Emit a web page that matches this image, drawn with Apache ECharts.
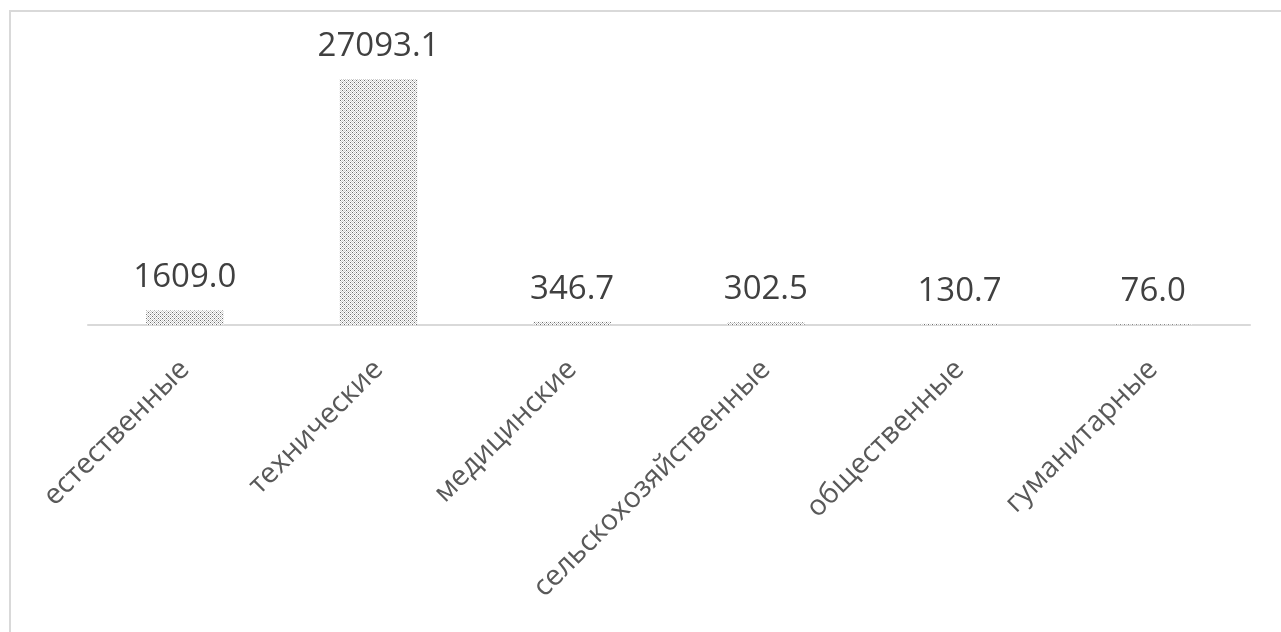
<!DOCTYPE html>
<html><head><meta charset="utf-8">
<style>html,body{margin:0;padding:0;background:#fff;}#c{width:1281px;height:632px;}</style>
<script src="https://cdn.jsdelivr.net/npm/echarts@6/dist/echarts.min.js"></script>
</head><body><div id="c"></div>
<script>
const categories = ['естественные','технические','медицинские','сельскохозяйственные','общественные','гуманитарные'];
const values = [1609.0, 27093.1, 346.7, 302.5, 130.7, 76.0];

// dotted pattern fill
const pc = document.createElement('canvas');
pc.width = 4; pc.height = 4;
const g = pc.getContext('2d');
g.fillStyle = '#ffffff'; g.fillRect(0,0,4,4);
for (let y=0;y<4;y++) for (let x=0;x<4;x++) {
  if ((x+y)%2===0) {
    g.fillStyle = (x===0 && y===0) || (x===2 && y===2) ? '#6e6e6e' : '#cdcdcd';
    g.fillRect(x,y,1,1);
  }
}

const chart = echarts.init(document.getElementById('c'));
chart.setOption({
  animation:false,
  graphic:[{type:'rect',shape:{x:10,y:11,width:1400,height:800},style:{fill:'none',stroke:'#d9d9d9',lineWidth:2},z:-1}],
  grid:{left:88,right:31,top:52.6,bottom:307,containLabel:false},
  xAxis:{type:'category',data:categories,
    axisLine:{lineStyle:{color:'#d9d9d9',width:2}},
    axisTick:{show:false},
    axisLabel:{rotate:45,interval:0,margin:40,color:'#595959',fontSize:28.5,fontFamily:'Open Sans'}},
  yAxis:{type:'value',min:0,max:30000,show:false,splitLine:{show:false}},
  series:[{type:'bar',data:values,barCategoryGap:'60%',
    itemStyle:{color:{image:pc,repeat:'repeat'}},
    label:{show:true,position:'top',distance:16,color:'#404040',fontSize:33,fontFamily:'Open Sans',
      formatter:p=>p.value.toFixed(1)}}]
});
</script></body></html>
